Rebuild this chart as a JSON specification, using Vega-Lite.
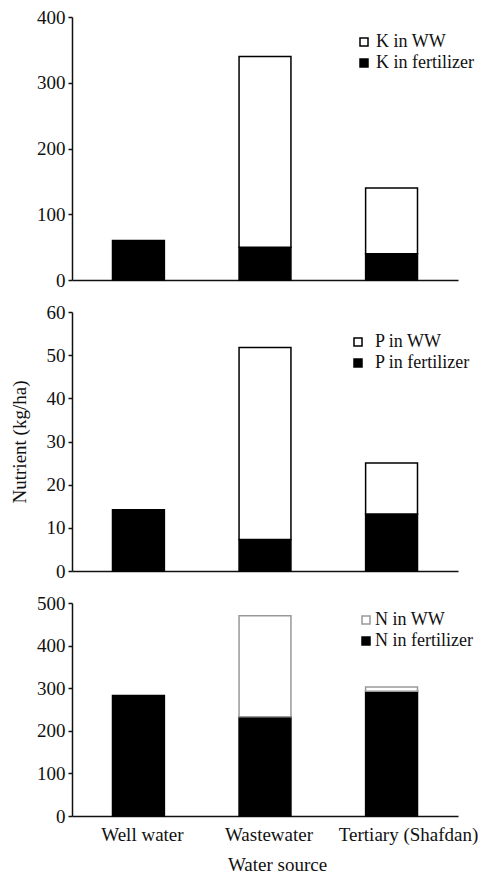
{
  "$schema": "https://vega.github.io/schema/vega-lite/v6.json",
  "padding": {"left": 10, "top": 8, "right": 0, "bottom": 0},
  "background": "white",
  "datasets": {
    "d": [
      {"panel": "K", "source": "Well water", "component": "K in fertilizer", "value": 60},
      {"panel": "K", "source": "Wastewater", "component": "K in fertilizer", "value": 50},
      {"panel": "K", "source": "Wastewater", "component": "K in WW", "value": 290},
      {"panel": "K", "source": "Tertiary (Shafdan)", "component": "K in fertilizer", "value": 40},
      {"panel": "K", "source": "Tertiary (Shafdan)", "component": "K in WW", "value": 100},
      {"panel": "P", "source": "Well water", "component": "P in fertilizer", "value": 14.2},
      {"panel": "P", "source": "Wastewater", "component": "P in fertilizer", "value": 7.3},
      {"panel": "P", "source": "Wastewater", "component": "P in WW", "value": 44.5},
      {"panel": "P", "source": "Tertiary (Shafdan)", "component": "P in fertilizer", "value": 13.2},
      {"panel": "P", "source": "Tertiary (Shafdan)", "component": "P in WW", "value": 11.8},
      {"panel": "N", "source": "Well water", "component": "N in fertilizer", "value": 283},
      {"panel": "N", "source": "Wastewater", "component": "N in fertilizer", "value": 233},
      {"panel": "N", "source": "Wastewater", "component": "N in WW", "value": 237},
      {"panel": "N", "source": "Tertiary (Shafdan)", "component": "N in fertilizer", "value": 293},
      {"panel": "N", "source": "Tertiary (Shafdan)", "component": "N in WW", "value": 10}
    ]
  },
  "config": {
    "font": "Liberation Serif",
    "view": {"stroke": null},
    "axis": {
      "labelFont": "Liberation Serif", "labelFontSize": 19, "labelColor": "#111",
      "titleFont": "Liberation Serif", "titleFontSize": 19, "titleFontWeight": "normal", "titleColor": "#111",
      "domainColor": "#111", "tickColor": "#111", "domainWidth": 1.5, "tickWidth": 1.5, "grid": false
    },
    "legend": {
      "labelFont": "Liberation Serif", "labelFontSize": 18, "labelColor": "#111",
      "symbolType": "square", "symbolSize": 64, "symbolStrokeColor": "black", "symbolStrokeWidth": 1,
      "padding": 0, "rowPadding": 3, "labelOffset": 0
    },
    "bar": {"strokeWidth": 1.5}
  },
  "spacing": 13,
  "resolve": {"scale": {"color": "independent", "stroke": "independent"}},
  "vconcat": [
    {
      "width": 386, "height": 263,
      "data": {"name": "d"},
      "transform": [{"filter": "datum.panel === 'K'"}],
      "mark": {"type": "bar", "stroke": "black"},
      "encoding": {
        "x": {"field": "source", "type": "nominal", "sort": ["Well water", "Wastewater", "Tertiary (Shafdan)"],
              "scale": {"paddingInner": 0.59, "paddingOuter": 0.32},
              "axis": {"labels": false, "ticks": false, "title": null}},
        "y": {"field": "value", "type": "quantitative", "stack": "zero", "scale": {"domain": [0, 400]},
              "axis": {"values": [0, 100, 200, 300, 400], "title": null, "tickSize": 4, "labelPadding": 3}},
        "color": {"field": "component", "type": "nominal",
                  "scale": {"domain": ["K in WW", "K in fertilizer"], "range": ["white", "black"]},
                  "legend": {"orient": "none", "legendX": 283, "legendY": 16, "title": null, "labelOffset": 3}},
        "order": {"field": "component", "sort": "descending"}
      }
    },
    {
      "width": 386, "height": 259,
      "data": {"name": "d"},
      "transform": [{"filter": "datum.panel === 'P'"}],
      "mark": {"type": "bar", "stroke": "black"},
      "encoding": {
        "x": {"field": "source", "type": "nominal", "sort": ["Well water", "Wastewater", "Tertiary (Shafdan)"],
              "scale": {"paddingInner": 0.59, "paddingOuter": 0.32},
              "axis": {"labels": false, "ticks": false, "title": null}},
        "y": {"field": "value", "type": "quantitative", "stack": "zero", "scale": {"domain": [0, 60]},
              "axis": {"values": [0, 10, 20, 30, 40, 50, 60], "title": "Nutrient (kg/ha)", "titlePadding": 17, "tickSize": 4, "labelPadding": 3}},
        "color": {"field": "component", "type": "nominal",
                  "scale": {"domain": ["P in WW", "P in fertilizer"], "range": ["white", "black"]},
                  "legend": {"orient": "none", "legendX": 277, "legendY": 21, "title": null, "labelOffset": 8}},
        "order": {"field": "component", "sort": "descending"}
      }
    },
    {
      "width": 386, "height": 213,
      "data": {"name": "d"},
      "transform": [{"filter": "datum.panel === 'N'"}],
      "mark": {"type": "bar"},
      "encoding": {
        "x": {"field": "source", "type": "nominal", "sort": ["Well water", "Wastewater", "Tertiary (Shafdan)"],
              "scale": {"paddingInner": 0.59, "paddingOuter": 0.32},
              "axis": {"labelAngle": 0, "ticks": false, "labelPadding": 9,
                       "labelOffset": {"condition": {"test": "datum.value === 'Tertiary (Shafdan)'", "value": 17}, "value": 4},
                       "title": "Water source", "titlePadding": 11, "titleX": 205}},
        "y": {"field": "value", "type": "quantitative", "stack": "zero", "scale": {"domain": [0, 500]},
              "axis": {"values": [0, 100, 200, 300, 400, 500], "title": null, "tickSize": 4, "labelPadding": 3}},
        "color": {"field": "component", "type": "nominal",
                  "scale": {"domain": ["N in WW", "N in fertilizer"], "range": ["white", "black"]},
                  "legend": {"orient": "none", "legendX": 285, "legendY": 8, "title": null, "symbolStrokeColor": "black",
                             "encode": {"symbols": {"enter": {"stroke": {"value": "black"}}, "update": {"stroke": {"value": "black"}}}}}},
        "stroke": {"field": "component", "type": "nominal",
                   "scale": {"domain": ["N in WW", "N in fertilizer"], "range": ["#999999", "black"]},
                   "legend": null},
        "order": {"field": "component", "sort": "descending"}
      }
    }
  ]
}
